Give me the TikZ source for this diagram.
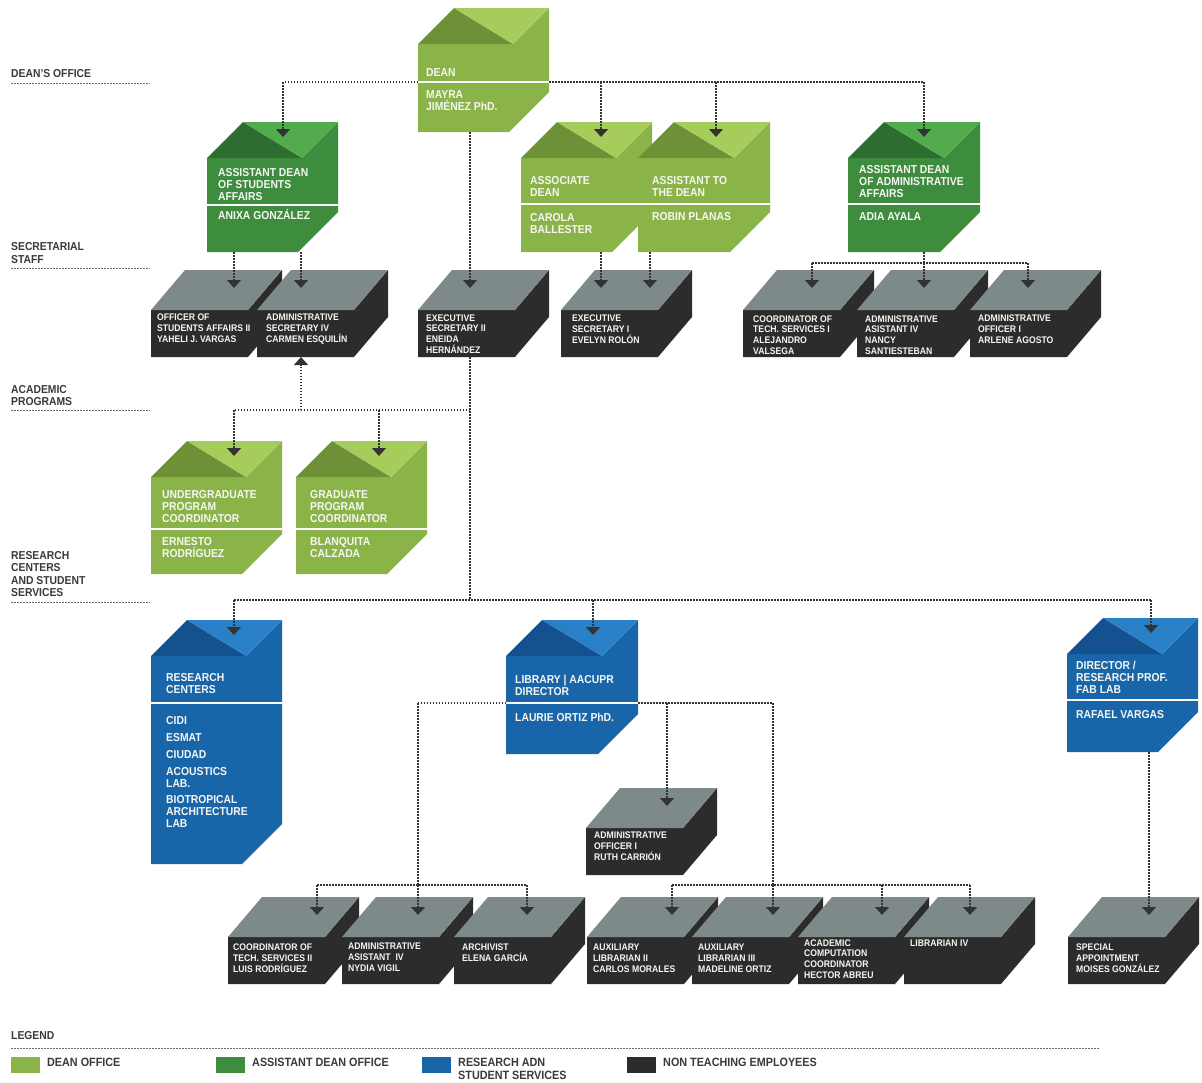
\documentclass[tikz,border=0pt]{standalone}
\usepackage{fontspec}
\setmainfont{Liberation Sans}[FakeStretch=0.9]
\usetikzlibrary{arrows.meta,calc}
\definecolor{dgm}{HTML}{8AB448}
\definecolor{dgd}{HTML}{6E9137}
\definecolor{dgl}{HTML}{A6CC5C}
\definecolor{agm}{HTML}{3E8C3E}
\definecolor{agd}{HTML}{2E6D30}
\definecolor{agl}{HTML}{52AB4C}
\definecolor{bum}{HTML}{1865A9}
\definecolor{bud}{HTML}{14528F}
\definecolor{bul}{HTML}{2A80C6}
\definecolor{ntg}{HTML}{7E8A8A}
\definecolor{ntd}{HTML}{2C2C2C}
\definecolor{conncol}{HTML}{333333}
\definecolor{lblcol}{HTML}{3A3A3A}
\definecolor{rulecol}{HTML}{6A6A6A}
\definecolor{boxtext}{HTML}{F6F6F2}

% name, L, T, W, H, separator y, medium, dark, light
\newcommand\HouseBox[9]{%
  \pgfmathsetmacro\bxL{#2}\pgfmathsetmacro\bxT{#3}%
  \pgfmathsetmacro\bxR{#2+#4}\pgfmathsetmacro\bxB{#3+#5}%
  \fill[#7] (\bxL,{\bxT+36}) -- ({\bxR-36},{\bxT+36}) -- (\bxR,\bxT) -- (\bxR,{\bxB-40}) -- ({\bxR-40},\bxB) -- (\bxL,\bxB) -- cycle;
  \fill[#8] (\bxL,{\bxT+36}) -- ({\bxL+36},\bxT) -- ({\bxR-36},{\bxT+36}) -- cycle;
  \fill[#9] ({\bxL+36},\bxT) -- (\bxR,\bxT) -- ({\bxR-36},{\bxT+36}) -- cycle;
  \draw[white,line width=2.2pt] (\bxL,#6) -- (\bxR,#6);
  \node[boxnode,minimum width=#4,minimum height=#5,anchor=north west] (#1) at (\bxL,\bxT) {};
  \coordinate (#1-sw) at (\bxL,#6);
  \coordinate (#1-se) at (\bxR,#6);
  \coordinate (#1-tip) at ({\bxL+#4/2},{\bxT+15});
}
% name, L, T
\newcommand\CubeBox[3]{%
  \pgfmathsetmacro\bxL{#2}\pgfmathsetmacro\bxT{#3}%
  \pgfmathsetmacro\bxR{#2+131}\pgfmathsetmacro\bxB{#3+87}%
  \fill[ntd] (\bxL,{\bxT+40}) -- ({\bxR-34},{\bxT+40}) -- (\bxR,\bxT) -- (\bxR,{\bxT+47}) -- ({\bxR-34},\bxB) -- (\bxL,\bxB) -- cycle;
  \fill[ntg] (\bxL,{\bxT+40}) -- ({\bxL+34},\bxT) -- (\bxR,\bxT) -- ({\bxR-34},{\bxT+40}) -- cycle;
  \node[boxnode,minimum width=131,minimum height=87,anchor=north west] (#1) at (\bxL,\bxT) {};
  \coordinate (#1-tip) at ({\bxL+65},{\bxT+18});
}

\begin{document}
\begin{tikzpicture}[x=1pt,y=-1pt,
  boxnode/.style={draw=none,rectangle,inner sep=0pt,outer sep=0pt},
  wtext/.style={text=boxtext,font=\fontsize{11.5}{12}\selectfont\bfseries,align=left,inner sep=0pt,anchor=base west},
  gtext/.style={text=boxtext,font=\fontsize{9.6}{10.6}\selectfont\bfseries,align=left,inner sep=0pt,anchor=base west},
  lbl/.style={text=lblcol,font=\fontsize{11.5}{12.5}\selectfont\bfseries,align=left,inner sep=0pt,anchor=base west},
  lgd/.style={text=lblcol,font=\fontsize{12}{13}\selectfont\bfseries,align=left,inner sep=0pt,anchor=base west},
  swatch/.style={draw=none,rectangle,inner sep=0pt,minimum width=29,minimum height=16,anchor=north west},
  conn/.style={draw=conncol,line width=1.3pt,dash pattern=on 1.5pt off 1.5pt},
  arr/.style={conn,-{Triangle[width=14pt,length=8pt]}},
  rulel/.style={draw=rulecol,line width=1pt,dash pattern=on 1.5pt off 1.5pt}]
\useasboundingbox (0,0) rectangle (1202,1082);
\fill[white] (0,0) rectangle (1202,1082);

% (text nodes are anchored at the baseline of their LAST line)
% ---------- left labels ----------
\node[lbl] (l-dean) at (11,77) {DEAN'S OFFICE};
\draw[rulel] (11,83) -- (150,83);
\node[lbl] (l-sec) at (11,263) {SECRETARIAL\\STAFF};
\draw[rulel] (11,268) -- (150,268);
\node[lbl] (l-acad) at (11,405.5) {ACADEMIC\\PROGRAMS};
\draw[rulel] (11,410) -- (150,410);
\node[lbl] (l-res) at (11,596.5) {RESEARCH\\CENTERS\\AND STUDENT\\SERVICES};
\draw[rulel] (11,602) -- (150,602);

% ---------- green boxes ----------
\HouseBox{dean}{418}{8}{131}{124}{82}{dgm}{dgd}{dgl}
\node[wtext] (dean-t1) at (426,76) {DEAN};
\node[wtext] (dean-t2) at (426,110) {MAYRA\\JIMÉNEZ PhD.};

\HouseBox{asd}{207}{122}{131}{130}{205}{agm}{agd}{agl}
\node[wtext] (asd-t1) at (218,200) {ASSISTANT DEAN\\OF STUDENTS\\AFFAIRS};
\node[wtext] (asd-t2) at (218,219) {ANIXA GONZÁLEZ};

\HouseBox{assoc}{521}{122}{131}{130}{204}{dgm}{dgd}{dgl}
\node[wtext] (assoc-t1) at (530,196) {ASSOCIATE\\DEAN};
\node[wtext] (assoc-t2) at (530,233) {CAROLA\\BALLESTER};

\HouseBox{asst}{638}{122}{132}{130}{204}{dgm}{dgd}{dgl}
\node[wtext] (asst-t1) at (652,196) {ASSISTANT TO\\THE DEAN};
\node[wtext] (asst-t2) at (652,220) {ROBIN PLANAS};

\HouseBox{ada}{848}{122}{132}{130}{204}{agm}{agd}{agl}
\node[wtext] (ada-t1) at (859,197) {ASSISTANT DEAN\\OF ADMINISTRATIVE\\AFFAIRS};
\node[wtext] (ada-t2) at (859,220) {ADIA AYALA};

\HouseBox{ugc}{151}{441}{131}{133}{529}{dgm}{dgd}{dgl}
\node[wtext] (ugc-t1) at (162,522) {UNDERGRADUATE\\PROGRAM\\COORDINATOR};
\node[wtext] (ugc-t2) at (162,557) {ERNESTO\\RODRÍGUEZ};

\HouseBox{gpc}{296}{441}{131}{133}{529}{dgm}{dgd}{dgl}
\node[wtext] (gpc-t1) at (310,522) {GRADUATE\\PROGRAM\\COORDINATOR};
\node[wtext] (gpc-t2) at (310,557) {BLANQUITA\\CALZADA};

% ---------- blue boxes ----------
\HouseBox{rc}{151}{620}{131}{244}{703}{bum}{bud}{bul}
\node[wtext] (rc-t1) at (166,693) {RESEARCH\\CENTERS};
\node[wtext] (rc-t2) at (166,827) {CIDI\\[5pt]ESMAT\\[5pt]CIUDAD\\[5pt]ACOUSTICS\\LAB.\\[4pt]BIOTROPICAL\\ARCHITECTURE\\LAB};

\HouseBox{lib}{506}{620}{132}{134}{703}{bum}{bud}{bul}
\node[wtext] (lib-t1) at (515,695) {LIBRARY | AACUPR\\DIRECTOR};
\node[wtext] (lib-t2) at (515,721) {LAURIE ORTIZ PhD.};

\HouseBox{fab}{1067}{618}{131}{134}{700}{bum}{bud}{bul}
\node[wtext] (fab-t1) at (1076,693) {DIRECTOR /\\RESEARCH PROF.\\FAB LAB};
\node[wtext] (fab-t2) at (1076,718) {RAFAEL VARGAS};

% ---------- non teaching boxes ----------
\CubeBox{ofsa}{151}{270}
\node[gtext] (ofsa-t) at (157,342) {OFFICER OF\\STUDENTS AFFAIRS II\\YAHELI J. VARGAS};
\CubeBox{adsec}{257}{270}
\node[gtext] (adsec-t) at (266,342) {ADMINISTRATIVE\\SECRETARY IV\\CARMEN ESQUILÍN};
\CubeBox{exs2}{418}{270}
\node[gtext] (exs2-t) at (426,353) {EXECUTIVE\\SECRETARY II\\ENEIDA\\HERNÁNDEZ};
\CubeBox{exs1}{561}{270}
\node[gtext] (exs1-t) at (572,343) {EXECUTIVE\\SECRETARY I\\EVELYN ROLÓN};
\CubeBox{cts1}{743}{270}
\node[gtext] (cts1-t) at (753,354) {COORDINATOR OF\\TECH. SERVICES I\\ALEJANDRO\\VALSEGA};
\CubeBox{aa4}{857}{270}
\node[gtext] (aa4-t) at (865,354) {ADMINISTRATIVE\\ASISTANT IV\\NANCY\\SANTIESTEBAN};
\CubeBox{ao1}{970}{270}
\node[gtext] (ao1-t) at (978,343) {ADMINISTRATIVE\\OFFICER I\\ARLENE AGOSTO};

\CubeBox{ruth}{586}{788}
\node[gtext] (ruth-t) at (594,860) {ADMINISTRATIVE\\OFFICER I\\RUTH CARRIÓN};

\CubeBox{ct2}{228}{897}
\node[gtext] (ct2-t) at (233,972) {COORDINATOR OF\\TECH. SERVICES II\\LUIS RODRÍGUEZ};
\CubeBox{aa4b}{342}{897}
\node[gtext] (aa4b-t) at (348,971) {ADMINISTRATIVE\\ASISTANT~~IV\\NYDIA VIGIL};
\CubeBox{arch}{454}{897}
\node[gtext] (arch-t) at (462,961.5) {ARCHIVIST\\ELENA GARCÍA};
\CubeBox{al2}{587}{897}
\node[gtext] (al2-t) at (593,972) {AUXILIARY\\LIBRARIAN II\\CARLOS MORALES};
\CubeBox{al3}{692}{897}
\node[gtext] (al3-t) at (698,972) {AUXILIARY\\LIBRARIAN III\\MADELINE ORTIZ};
\CubeBox{acc}{798}{897}
\node[gtext] (acc-t) at (804,978) {ACADEMIC\\COMPUTATION\\COORDINATOR\\HECTOR ABREU};
\CubeBox{lib4}{904}{897}
\node[gtext] (lib4-t) at (910,946) {LIBRARIAN IV};
\CubeBox{spa}{1068}{897}
\node[gtext] (spa-t) at (1076,972) {SPECIAL\\APPOINTMENT\\MOISES GONZÁLEZ};

% ---------- connectors ----------
\coordinate (c283) at (283,82);
\coordinate (c601) at (601,82);
\coordinate (c716) at (716,82);
\coordinate (c924) at (924,82);
\draw[conn] (dean-sw) -- (c283);
\draw[conn] (dean-se) -- (c924);
\draw[arr] (c283) -- (c283 |- asd-tip);
\draw[arr] (c601) -- (c601 |- assoc-tip);
\draw[arr] (c716) -- (c716 |- asst-tip);
\draw[arr] (c924) -- (c924 |- ada-tip);

\coordinate (v470) at (470,600);
\draw[arr] (v470 |- dean.south) -- (v470 |- exs2-tip);
\draw[conn] (v470 |- exs2.south) -- (v470);

\coordinate (h234) at (234,410);
\coordinate (h301) at (301,410);
\coordinate (h379) at (379,410);
\coordinate (h470) at (470,410);
\draw[conn] (h470) -- (h234);
\draw[arr] (h234) -- (h234 |- ugc-tip);
\draw[arr] (h379) -- (h379 |- gpc-tip);
\draw[arr] (h301) -- (h301 |- adsec.south);

\coordinate (r234) at (234,600);
\coordinate (r593) at (593,600);
\coordinate (r1151) at (1151,600);
\draw[conn] (r234) -- (r1151);
\draw[arr] (r234) -- (r234 |- rc-tip);
\draw[arr] (r593) -- (r593 |- lib-tip);
\draw[arr] (r1151) -- (r1151 |- fab-tip);

\draw[arr] (h234 |- asd.south) -- (h234 |- ofsa-tip);
\draw[arr] (h301 |- asd.south) -- (h301 |- adsec-tip);

\coordinate (c650) at (650,252);
\draw[arr] (c601 |- assoc.south) -- (c601 |- exs1-tip);
\draw[arr] (c650 |- asst.south) -- (c650 |- exs1-tip);

\coordinate (a812) at (812,263);
\coordinate (a924) at (924,263);
\coordinate (a1028) at (1028,263);
\draw[conn] (c924 |- ada.south) -- (a924);
\draw[conn] (a812) -- (a1028);
\draw[arr] (a812) -- (a812 |- cts1-tip);
\draw[arr] (a924) -- (a924 |- aa4-tip);
\draw[arr] (a1028) -- (a1028 |- ao1-tip);

\coordinate (l418) at (418,703);
\coordinate (l667) at (667,703);
\coordinate (l773) at (773,703);
\draw[conn] (lib-sw) -- (l418);
\draw[conn] (lib-se) -- (l773);
\draw[arr] (l667) -- (l667 |- ruth-tip);

\coordinate (b317) at (317,885);
\coordinate (b418) at (418,885);
\coordinate (b527) at (527,885);
\coordinate (b672) at (672,885);
\coordinate (b773) at (773,885);
\coordinate (b882) at (882,885);
\coordinate (b970) at (970,885);
\draw[conn] (l418) -- (b418);
\draw[conn] (l773) -- (b773);
\draw[conn] (b317) -- (b527);
\draw[conn] (b672) -- (b970);
\draw[arr] (b317) -- (b317 |- ct2-tip);
\draw[arr] (b418) -- (b418 |- aa4b-tip);
\draw[arr] (b527) -- (b527 |- arch-tip);
\draw[arr] (b672) -- (b672 |- al2-tip);
\draw[arr] (b773) -- (b773 |- al3-tip);
\draw[arr] (b882) -- (b882 |- acc-tip);
\draw[arr] (b970) -- (b970 |- lib4-tip);

\coordinate (f1149) at (1149,752);
\draw[arr] (f1149 |- fab.south) -- (f1149 |- spa-tip);

% ---------- legend ----------
\node[lbl] (leg) at (11,1039) {LEGEND};
\draw[rulel] (11,1048) -- (1100,1048);
\node[swatch,fill=dgm] (sw1) at (11,1057) {};
\node[lgd] (lg1) at (47,1066) {DEAN OFFICE};
\node[swatch,fill=agm] (sw2) at (216,1057) {};
\node[lgd] (lg2) at (252,1066) {ASSISTANT DEAN OFFICE};
\node[swatch,fill=bum] (sw3) at (422,1057) {};
\node[lgd] (lg3) at (458,1079) {RESEARCH ADN\\STUDENT SERVICES};
\node[swatch,fill=ntd] (sw4) at (627,1057) {};
\node[lgd] (lg4) at (663,1066) {NON TEACHING EMPLOYEES};
\end{tikzpicture}
\end{document}
